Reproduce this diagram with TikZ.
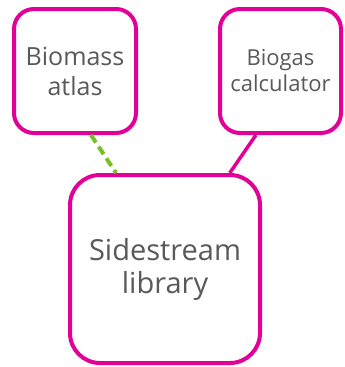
\documentclass[tikz,border=0pt]{standalone}
\usepackage{fontspec}
\setmainfont{Open Sans}
\definecolor{boxpink}{RGB}{226,0,150}
\definecolor{linkgreen}{RGB}{120,190,40}
\definecolor{labelgray}{RGB}{89,89,89}
\tikzset{
	toolbox/.style={draw=boxpink, line width=4pt, rounded corners=20pt, fill=white, align=center, text=labelgray, inner sep=0pt},
}
\begin{document}
\begin{tikzpicture}[x=1pt,y=-1pt]
		\useasboundingbox (0,0) rectangle (345,367);

		\node (atlas) [toolbox, minimum width=122pt, minimum height=124pt, font=\fontsize{25}{30}\selectfont] at (75,71) {Biomass\\atlas};
		\node (calc) [toolbox, minimum width=121pt, minimum height=124pt, font=\fontsize{22}{26}\selectfont] at (280.5,71) {Biogas\\calculator};
		\node (library) [toolbox, rounded corners=30pt, minimum width=190pt, minimum height=188pt, font=\fontsize{29}{33}\selectfont] at (165,269) {Sidestream\\library};

		\draw[linkgreen, line width=4pt, dash pattern=on 9pt off 5pt] (atlas.-76) -- (library.117.5);
		\draw[boxpink, line width=3.5pt] (calc.-111.8) -- (library.56.6);

	\end{tikzpicture}
\end{document}
